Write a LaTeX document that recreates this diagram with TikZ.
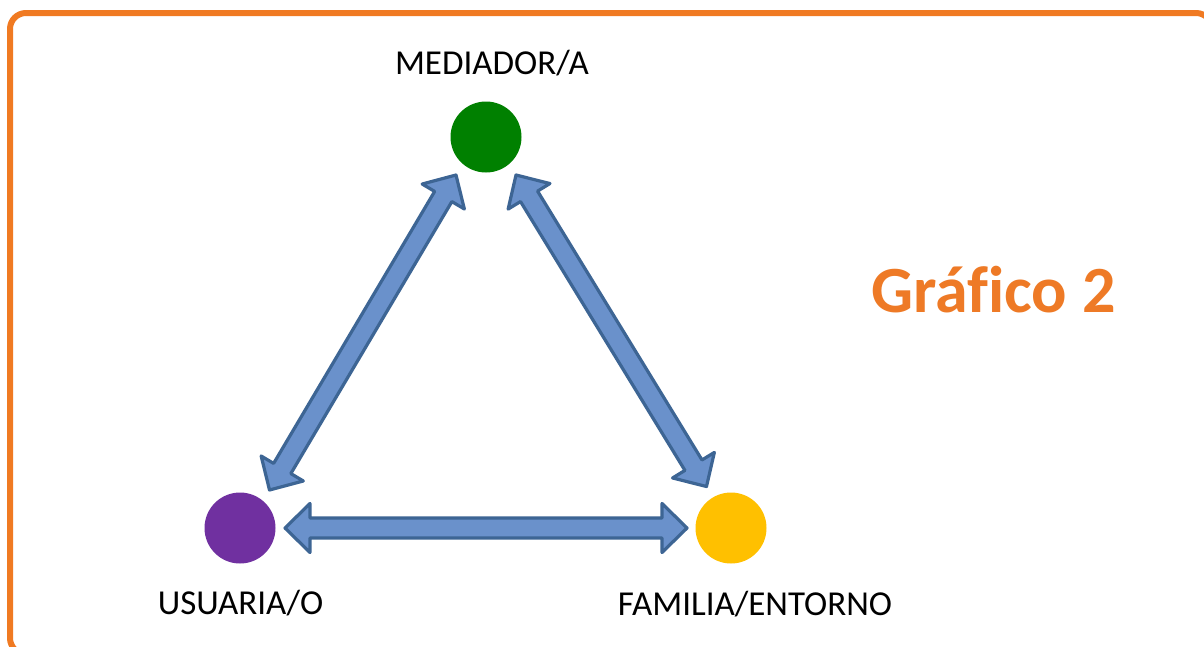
\documentclass[tikz,border=0pt]{standalone}
\usepackage{fontspec}
\setmainfont[Ligatures=NoCommon]{Carlito}
\usetikzlibrary{calc}
\definecolor{frameorange}{HTML}{F07A22}
\definecolor{titleorange}{HTML}{EE7A26}
\definecolor{medgreen}{HTML}{008000}
\definecolor{usupurple}{HTML}{7030A0}
\definecolor{famyellow}{HTML}{FFC000}
\definecolor{arrowfill}{HTML}{6A91CB}
\definecolor{arrowline}{HTML}{3D6594}
\tikzset{
  dot/.style={circle, inner sep=0pt, minimum size=71pt},
  label/.style={font=\fontsize{35}{42}\selectfont, text=black, anchor=base, inner sep=0pt},
  dblarrow/.style={draw=arrowline, fill=arrowfill, line width=3.2pt, line join=round,
    to path={let \p1=(\tikztostart), \p2=(\tikztotarget),
      \n1={atan2(\y2-\y1,\x2-\x1)}, \n3={\n1+90}, \n4={\n1-90} in
      (\p1) -- ($(\p1)+(\n1:25pt)+(\n3:24.5pt)$) -- ($(\p1)+(\n1:25pt)+(\n3:10pt)$)
      -- ($(\p2)+(\n1:-25pt)+(\n3:10pt)$) -- ($(\p2)+(\n1:-25pt)+(\n3:24.5pt)$)
      -- (\p2) -- ($(\p2)+(\n1:-25pt)+(\n4:24.5pt)$) -- ($(\p2)+(\n1:-25pt)+(\n4:10pt)$)
      -- ($(\p1)+(\n1:25pt)+(\n4:10pt)$) -- ($(\p1)+(\n1:25pt)+(\n4:24.5pt)$) -- cycle}}
}
\begin{document}
\begin{tikzpicture}[x=1pt, y=-1pt]
\useasboundingbox (0,0) rectangle (1204,646);
\clip (0,0) rectangle (1204,646);
\fill[white] (0,0) rectangle (1204,646);
\draw[frameorange, line width=6pt, rounded corners=16pt] (10,13) rectangle (1212,654);

\node[dot, fill=medgreen] (med) at (486,137) {};
\node[dot, fill=usupurple] (usu) at (240,528) {};
\node[dot, fill=famyellow] (fam) at (731,528) {};

\node[label] (medl) at (492,74) {MEDIADOR/A};
\node[label] (usul) at (240.5,614) {USUARIA/O};
\node[label] (faml) at (755,615) {FAMILIA/ENTORNO};
\node[font=\fontsize{66}{78}\selectfont\bfseries, text=titleorange, anchor=base, inner sep=0pt] (title) at (993.5,312) {Gráfico 2};

\coordinate (a1) at (269.5,490);
\coordinate (a2) at (456,175);
\coordinate (b1) at (516,175);
\coordinate (b2) at (706.5,486.5);
\coordinate (c1) at (285,528);
\coordinate (c2) at (687,528);

\draw[dblarrow] (a1) to (a2);
\draw[dblarrow] (b1) to (b2);
\draw[dblarrow] (c1) to (c2);
\end{tikzpicture}
\end{document}
